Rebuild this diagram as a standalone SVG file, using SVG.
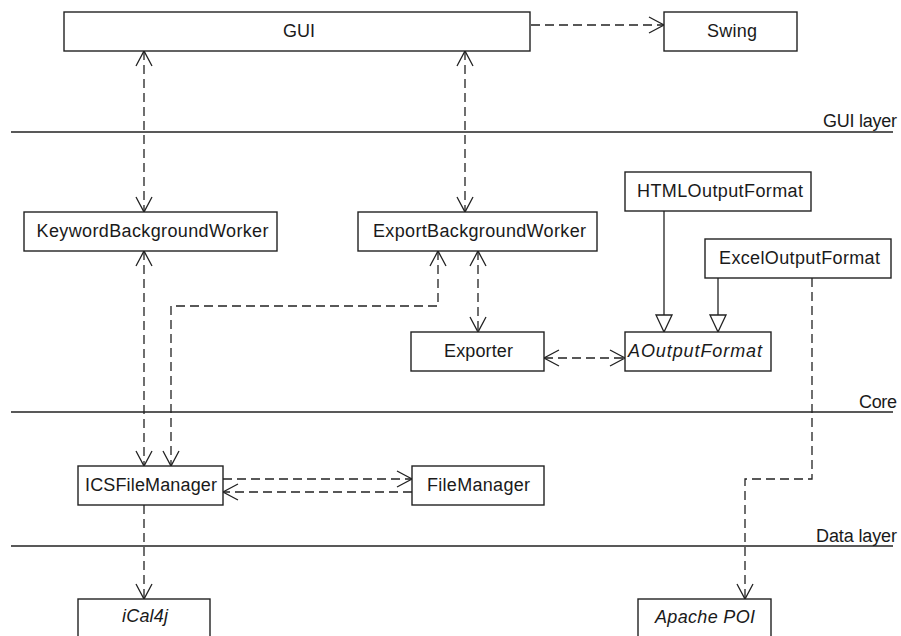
<svg xmlns="http://www.w3.org/2000/svg" width="901" height="636" viewBox="0 0 901 636">
<style>
  .box { fill: #ffffff; stroke: #222222; stroke-width: 1.4; }
  .lbl { font-family: "Liberation Sans", Arial, sans-serif; font-size: 18px; fill: #1a1a1a; text-anchor: middle; }
  .it { font-style: italic; }
  .layer { stroke: #222222; stroke-width: 1.4; fill: none; }
  .llbl { font-family: "Liberation Sans", Arial, sans-serif; font-size: 18px; fill: #1a1a1a; text-anchor: end; }
  .dep { fill: none; stroke: #222222; stroke-width: 1.3; stroke-dasharray: 9 5; }
  .gen { fill: none; stroke: #222222; stroke-width: 1.3; }
</style>
<defs>
  <marker id="open" markerUnits="userSpaceOnUse" markerWidth="20" markerHeight="20" viewBox="-17 -10 20 20" refX="0" refY="0" orient="auto-start-reverse">
    <path d="M-15,-8 L0,0 L-15,8" fill="none" stroke="#222222" stroke-width="1.3"/>
  </marker>
  <marker id="tri" markerUnits="userSpaceOnUse" markerWidth="22" markerHeight="22" viewBox="-19 -11 22 22" refX="0" refY="0" orient="auto">
    <path d="M-17,-8 L0,0 L-17,8 Z" fill="#ffffff" stroke="#222222" stroke-width="1.3"/>
  </marker>
</defs>

<g id="layers">
  <line class="layer" x1="11" y1="132" x2="893" y2="132"/>
  <text class="llbl" x="897" y="127" textLength="74">GUI layer</text>
  <line class="layer" x1="11" y1="412" x2="893" y2="412"/>
  <text class="llbl" x="897" y="408" textLength="38">Core</text>
  <line class="layer" x1="11" y1="546" x2="893" y2="546"/>
  <text class="llbl" x="897" y="542" textLength="81">Data layer</text>
</g>

<g id="connectors">
  <path class="dep" d="M531,25 H664" marker-end="url(#open)"/>
  <path class="dep" d="M144,51 V212" marker-start="url(#open)" marker-end="url(#open)"/>
  <path class="dep" d="M465,51 V212" marker-start="url(#open)" marker-end="url(#open)"/>
  <path class="dep" d="M144,251 V466" marker-start="url(#open)" marker-end="url(#open)"/>
  <path class="dep" d="M438,251 V306 H171 V466" marker-start="url(#open)" marker-end="url(#open)"/>
  <path class="dep" d="M478,251 V332" marker-start="url(#open)" marker-end="url(#open)"/>
  <path class="dep" d="M544,358 H625" marker-start="url(#open)" marker-end="url(#open)"/>
  <path class="gen" d="M664,211 V332" marker-end="url(#tri)"/>
  <path class="gen" d="M718,278 V332" marker-end="url(#tri)"/>
  <path class="dep" d="M812,278 V479 H745 V599" marker-end="url(#open)"/>
  <path class="dep" d="M223,479 H412" marker-end="url(#open)"/>
  <path class="dep" d="M412,492 H223" marker-end="url(#open)"/>
  <path class="dep" d="M144,505 V599" marker-end="url(#open)"/>
</g>

<g id="GUI">
  <rect class="box" x="64" y="12" width="466" height="39"/>
  <text class="lbl" x="299" y="37" textLength="32">GUI</text>
</g>
<g id="Swing">
  <rect class="box" x="664" y="12" width="133" height="39"/>
  <text class="lbl" x="732" y="37" textLength="50">Swing</text>
</g>
<g id="KeywordBackgroundWorker">
  <rect class="box" x="24" y="212" width="253" height="39"/>
  <text class="lbl" x="152.5" y="237" textLength="232">KeywordBackgroundWorker</text>
</g>
<g id="ExportBackgroundWorker">
  <rect class="box" x="358" y="212" width="239" height="39"/>
  <text class="lbl" x="479.5" y="237" textLength="213">ExportBackgroundWorker</text>
</g>
<g id="HTMLOutputFormat">
  <rect class="box" x="625" y="172" width="186" height="39"/>
  <text class="lbl" x="720" y="197" textLength="166">HTMLOutputFormat</text>
</g>
<g id="ExcelOutputFormat">
  <rect class="box" x="705" y="239" width="186" height="39"/>
  <text class="lbl" x="799.5" y="264" textLength="161">ExcelOutputFormat</text>
</g>
<g id="Exporter">
  <rect class="box" x="411" y="332" width="133" height="39"/>
  <text class="lbl" x="478.5" y="357" textLength="69">Exporter</text>
</g>
<g id="AOutputFormat">
  <rect class="box" x="625" y="332" width="146" height="39"/>
  <text class="lbl it" x="695" y="357" textLength="134">AOutputFormat</text>
</g>
<g id="ICSFileManager">
  <rect class="box" x="78" y="466" width="145" height="39"/>
  <text class="lbl" x="151" y="491" textLength="132">ICSFileManager</text>
</g>
<g id="FileManager">
  <rect class="box" x="412" y="466" width="132" height="39"/>
  <text class="lbl" x="478.5" y="491" textLength="103">FileManager</text>
</g>
<g id="iCal4j">
  <rect class="box" x="78" y="599" width="132" height="50"/>
  <text class="lbl it" x="145" y="622" textLength="46">iCal4j</text>
</g>
<g id="ApachePOI">
  <rect class="box" x="638" y="599" width="133" height="50"/>
  <text class="lbl it" x="705" y="623" textLength="100">Apache POI</text>
</g>
</svg>
